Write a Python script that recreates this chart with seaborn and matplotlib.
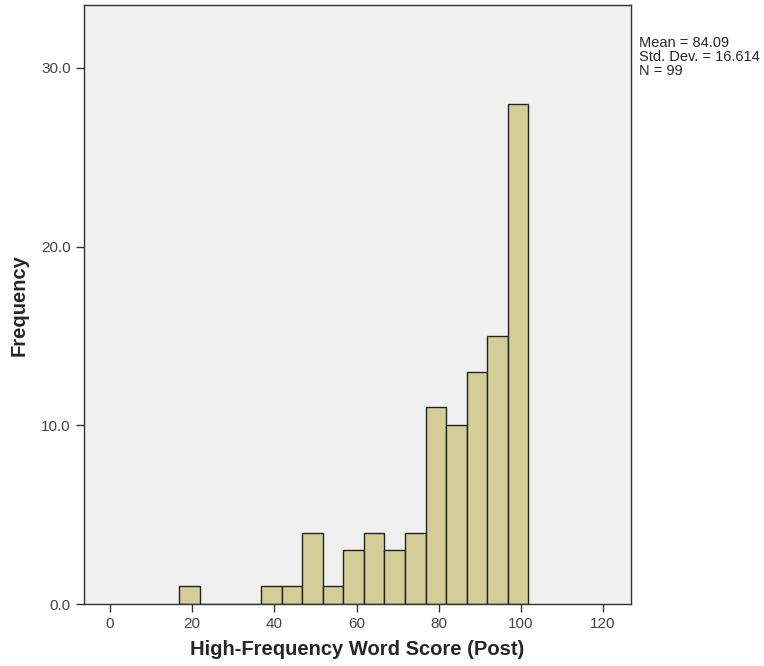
import numpy as np
import seaborn as sns
import matplotlib.pyplot as plt
import pandas

# bin centres and counts
centers = [19.3, 39.3, 44.3, 49.3, 54.3, 59.3, 64.3, 69.3, 74.3, 79.3, 84.3, 89.3, 94.3, 99.3]
counts = [1, 1, 1, 4, 1, 3, 4, 3, 4, 11, 10, 13, 15, 28]
xticks = [0, 20, 40, 60, 80, 100, 120]
yticks = [0, 10, 20, 30]
stats_text = "Mean = 84.09\nStd. Dev. = 16.614\nN = 99"

df = pandas.DataFrame({'score': centers, 'n': counts})

sns.set_style('ticks')
plt.rcParams['font.family'] = ['Liberation Sans', 'DejaVu Sans']

fig = plt.figure(figsize=(7.64, 6.66), dpi=100)
ax = fig.add_axes([0.110, 0.093, 0.716, 0.899])
ax.set_facecolor('#f0f0f0')

sns.histplot(data=df, x='score', weights='n', binwidth=5.0, binrange=(16.8, 101.8), ax=ax,
             color='#d3ce97', edgecolor='#222222', linewidth=1.0, alpha=1.0)

ax.set_xlim(-6.3, 126.8)
ax.set_ylim(0, 33.5)
ax.set_xticks(xticks)
ax.set_yticks(yticks)
ax.set_yticklabels(['{:.1f}'.format(v) for v in yticks])
ax.tick_params(axis='both', labelsize=11, colors='#333333', length=6, width=1)
ax.tick_params(axis='both', labelcolor='#444444')
for s in ax.spines.values():
    s.set_color('#333333')
    s.set_linewidth(1.0)
    s.set_visible(True)

ax.set_xlabel('High-Frequency Word Score (Post)', fontsize=14.5, fontweight='bold', labelpad=6)
ax.set_ylabel('Frequency', fontsize=14.5, fontweight='bold', labelpad=9)

fig.text(0.837, 0.946, stats_text, fontsize=10.5, va='top', ha='left', linespacing=1.0)

plt.savefig('out.png', dpi=100)
